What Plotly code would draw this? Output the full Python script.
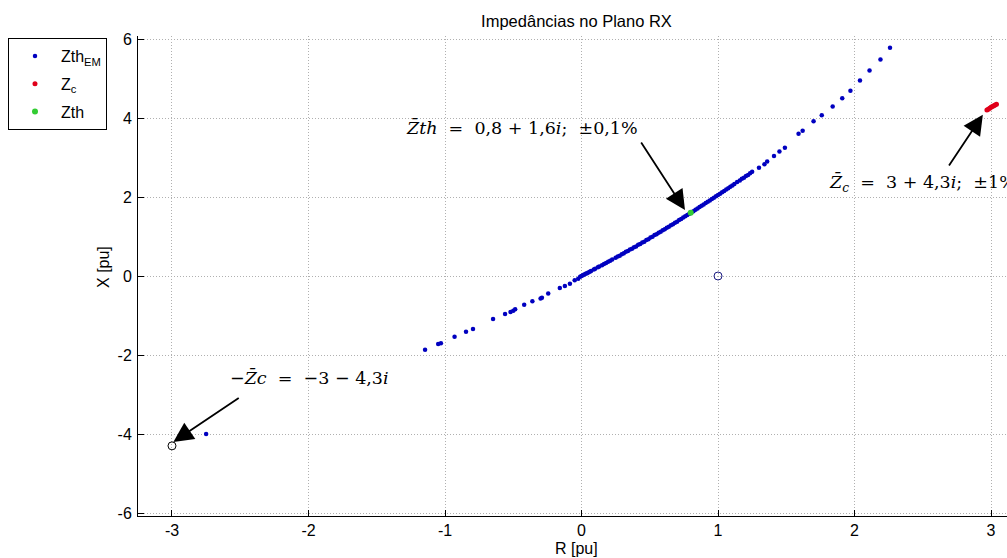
import plotly.graph_objects as go

# ---------------- data ----------------
zth_em_r = [-2.75,
            -1.146, -1.05, -1.03, -0.93, -0.846, -0.795, -0.648, -0.56, -0.52, -0.50, -0.486,
            -0.42, -0.36, -0.30, -0.29, -0.244, -0.159, -0.122, -0.085, -0.05, -0.024, -0.01,
            0.0, 0.02, 0.04, 0.06, 0.09, 0.12, 0.15, 0.18, 0.21, 0.25, 0.28, 0.31, 0.34,
            0.37, 0.40, 0.43, 0.46, 0.49, 0.52, 0.55, 0.58, 0.61, 0.64, 0.67, 0.70, 0.73,
            0.76, 0.79, 0.82, 0.85, 0.88, 0.91, 0.94, 0.97, 1.00, 1.03, 1.06, 1.09, 1.12,
            1.16, 1.19, 1.22, 1.25, 1.30, 1.34, 1.36, 1.41, 1.45, 1.49, 1.59, 1.62, 1.70,
            1.76, 1.84, 1.91, 1.97, 2.04, 2.11, 2.19, 2.26,
            0.01, 0.03, 0.05, 0.07, 0.10, 0.13, 0.165, 0.195, 0.225, 0.265, 0.295, 0.325,
            0.355, 0.385, 0.415, 0.445, 0.475, 0.505, 0.535, 0.565, 0.595, 0.625, 0.655,
            0.685, 0.715, 0.745, 0.775, 0.805, 0.835, 0.865, 0.895, 0.925, 0.955, 0.985,
            1.015, 1.045, 1.075, 1.105, 1.14, 1.175, 1.205, 1.235]
zth_em_x = [-4.0,
            -1.87, -1.72, -1.70, -1.54, -1.41, -1.34, -1.09, -0.96, -0.91, -0.88, -0.84,
            -0.73, -0.64, -0.57, -0.553, -0.443, -0.306, -0.255, -0.196, -0.11, -0.068, -0.02,
            0.0, 0.035, 0.07, 0.11, 0.165, 0.22, 0.275, 0.33, 0.385, 0.46, 0.515, 0.575, 0.63,
            0.69, 0.75, 0.81, 0.87, 0.93, 0.995, 1.06, 1.12, 1.185, 1.25, 1.31, 1.375, 1.44,
            1.51, 1.575, 1.64, 1.71, 1.78, 1.845, 1.91, 1.98, 2.05, 2.12, 2.19, 2.26, 2.33,
            2.42, 2.49, 2.56, 2.64, 2.74, 2.83, 2.90, 3.04, 3.15, 3.25, 3.60, 3.68, 3.92,
            4.07, 4.29, 4.50, 4.69, 4.95, 5.20, 5.48, 5.78,
            0.018, 0.054, 0.091, 0.127, 0.183, 0.238, 0.304, 0.361, 0.418, 0.495, 0.553, 0.611,
            0.671, 0.730, 0.790, 0.851, 0.911, 0.973, 1.035, 1.097, 1.160, 1.223, 1.286,
            1.350, 1.415, 1.480, 1.545, 1.611, 1.677, 1.744, 1.811, 1.879, 1.947, 2.016,
            2.085, 2.154, 2.224, 2.294, 2.377, 2.460, 2.532, 2.604]

zc_r = [2.97, 2.98, 2.99, 3.00, 3.01, 3.02, 3.03, 3.04]
zc_x = [4.20, 4.22, 4.25, 4.27, 4.29, 4.31, 4.33, 4.35]

zth_r = [0.8]
zth_x = [1.6]

neg_zc_r = [-3.0]
neg_zc_x = [-4.3]
unit_r = [1.0]
unit_x = [0.0]

x_ticks = [-3, -2, -1, 0, 1, 2, 3]
x_tick_labels = ["-3", "-2", "-1", "0", "1", "2", "3"]
y_ticks = [-6, -4, -2, 0, 2, 4, 6]
y_tick_labels = ["-6", "-4", "-2", "0", "2", "4", "6"]

title_text = "Impedâncias no Plano RX"
xlabel = "R [pu]"
ylabel = "X [pu]"

# ---------------- figure ----------------
SANS = "Liberation Sans, Arial, sans-serif"
SERIF = "DejaVu Serif, serif"

fig = go.Figure()
fig.add_trace(go.Scatter(x=zth_em_r, y=zth_em_x, mode="markers", name="Zth<sub>EM</sub>",
                         legendgroup="a",
                         marker=dict(color="#0000c0", size=4.5, symbol="circle")))
fig.add_trace(go.Scatter(x=zc_r, y=zc_x, mode="markers", name="Z<sub>c</sub>",
                         legendgroup="b",
                         marker=dict(color="#e0001a", size=5, symbol="circle")))
fig.add_trace(go.Scatter(x=zth_r, y=zth_x, mode="markers", name="Zth",
                         legendgroup="c",
                         marker=dict(color="#33cc33", size=6, symbol="circle")))
fig.add_trace(go.Scatter(x=neg_zc_r, y=neg_zc_x, mode="markers", showlegend=False,
                         marker=dict(color="black", size=8, symbol="circle-open",
                                     line=dict(width=1))))
fig.add_trace(go.Scatter(x=unit_r, y=unit_x, mode="markers", showlegend=False,
                         marker=dict(color="#1a1a80", size=8, symbol="circle-open",
                                     line=dict(width=1))))

axis_common = dict(showline=True, linecolor="black", linewidth=1, mirror=False,
                   ticks="inside", ticklen=6, tickcolor="black",
                   showgrid=True, gridcolor="#b0b0b0", griddash="1px,2px", gridwidth=1,
                   zeroline=False, tickfont=dict(family=SANS, size=16, color="black"))

fig.update_xaxes(range=[-3.249, 3.117], tickvals=x_ticks, ticktext=x_tick_labels, **axis_common)
fig.update_yaxes(range=[-6.076, 6.076], tickvals=y_ticks, ticktext=y_tick_labels,
                 ticklabelstandoff=2, **axis_common)

ann = []
# axis labels
ann.append(dict(text=ylabel, xref="paper", yref="paper", x=-0.039, y=0.519, textangle=-90,
                showarrow=False, font=dict(family=SANS, size=16, color="black"),
                xanchor="center", yanchor="middle"))
ann.append(dict(text=xlabel, xref="paper", yref="paper", x=0.505, y=-0.0667,
                showarrow=False, font=dict(family=SANS, size=16, color="black"),
                xanchor="center", yanchor="middle"))

# text annotations
afont = dict(family=SERIF, size=17.5, color="black")
Zbar = "Z\u0304"
ann.append(dict(text=f"<i>{Zbar}th</i>  =  0,8 + 1,6<i>i</i>;  ±0,1%", x=0.43, y=3.77,
                xref="x", yref="y", xanchor="right", yanchor="middle", showarrow=False,
                font=afont))
ann.append(dict(text=f"<i>{Zbar}<sub>c</sub></i>  =  3 + 4,3<i>i</i>;  ±1%", x=1.80, y=2.35,
                xref="x", yref="y", xanchor="left", yanchor="middle", showarrow=False,
                font=afont))
ann.append(dict(text=f"\u2212<i>{Zbar}c</i>  =  \u22123 \u2212 4,3<i>i</i>", x=-2.59, y=-2.56,
                xref="x", yref="y", xanchor="left", yanchor="middle", showarrow=False,
                font=afont))

# arrows
arrow_style = dict(text="", showarrow=True, arrowhead=2, arrowsize=2.2, arrowwidth=1.8,
                   arrowcolor="black", xref="x", yref="y", axref="x", ayref="y", standoff=0)
ann.append(dict(x=0.758, y=1.67, ax=0.43, ay=3.42, **arrow_style))
ann.append(dict(x=2.94, y=4.08, ax=2.685, ay=2.76, **arrow_style))
ann.append(dict(x=-2.99, y=-4.2, ax=-2.50, ay=-3.06, **arrow_style))

fig.update_layout(
    width=1007, height=558,
    margin=dict(l=138, r=0, t=36, b=42),
    paper_bgcolor="white", plot_bgcolor="white",
    title=dict(text=title_text, x=0.5046, xref="paper", y=1 - 21 / 558, yref="container",
               xanchor="center", yanchor="middle",
               font=dict(family=SANS, size=16.5, color="black")),
    showlegend=True,
    legend=dict(x=-0.1496, y=0.9958, xanchor="left", yanchor="top",
                bgcolor="white", bordercolor="black", borderwidth=1,
                font=dict(family=SANS, size=16, color="black"),
                traceorder="grouped", tracegroupgap=4, itemwidth=42),
    annotations=ann,
)

fig.write_html("out.html")
